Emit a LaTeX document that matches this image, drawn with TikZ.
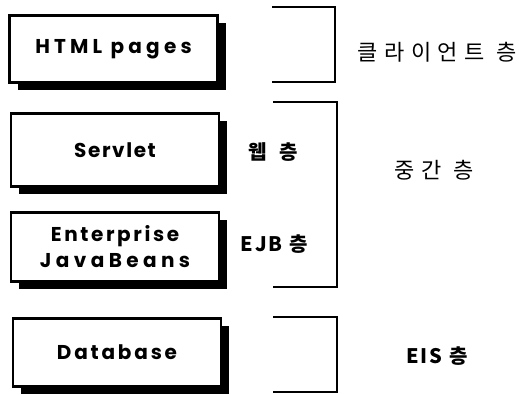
\documentclass[tikz,border=0pt]{standalone}
\usepackage{fontspec}
\usetikzlibrary{shadows}
\newfontfamily\boxfont{Poppins}
\newfontfamily\kofont[LetterSpace=30]{Noto Sans CJK KR}
\newfontfamily\kotightfont[LetterSpace=10]{Noto Sans CJK KR}
\newcommand\spaced[1]{\addfontfeatures{LetterSpace=#1}}
\begin{document}
\begin{tikzpicture}[x=1pt,y=-1pt,
  tierbox/.style={draw=black,line width=2.6pt,fill=white,inner sep=0pt,
    minimum width=208pt,align=center,
    font=\boxfont\bfseries\fontsize{20}{26}\selectfont,
    drop shadow={shadow xshift=8pt,shadow yshift=-7pt,fill=black,opacity=1}},
  bracket/.style={line width=2.2pt,line join=miter},
  tierlabel/.style={inner sep=0pt,font=\kofont\fontsize{22}{26}\selectfont},
  boldlabel/.style={inner sep=0pt,font=\kotightfont\bfseries\fontsize{20}{24}\selectfont}]
\useasboundingbox (0,0) rectangle (519,394);

% component boxes
\node[tierbox,minimum height=67pt] (html) at (113.5,49) {\spaced{21}HTML pages};
\node[tierbox,minimum height=73pt] (servlet) at (115,150) {\spaced{8}Servlet};
\node[tierbox,minimum height=69pt] (ejb) at (115,247)
  {{\spaced{13}Enterprise}\\{\spaced{22}JavaBeans}};
\node[tierbox,minimum height=68pt] (db) at (117,352.5) {\spaced{14}Database};

% tier brackets
\draw[bracket] (272,7) -- (335,7) -- (335,82) -- (272,82);
\draw[bracket] (273,102) -- (337,102) -- (337,287) -- (273,287);
\draw[bracket] (273,317) -- (337,317) -- (337,392) -- (273,392);

% tier names
\node[tierlabel] (client) at (437,52) {클라이언트 층};
\node[tierlabel] (middle) at (434,170) {중간 층};
\node[boldlabel] (eis) at (437,356) {EIS 층};
\node[boldlabel] (web) at (273,152) {웹\hspace{6pt} 층};
\node[boldlabel] (ejbtier) at (274,244) {EJB 층};
\end{tikzpicture}
\end{document}
